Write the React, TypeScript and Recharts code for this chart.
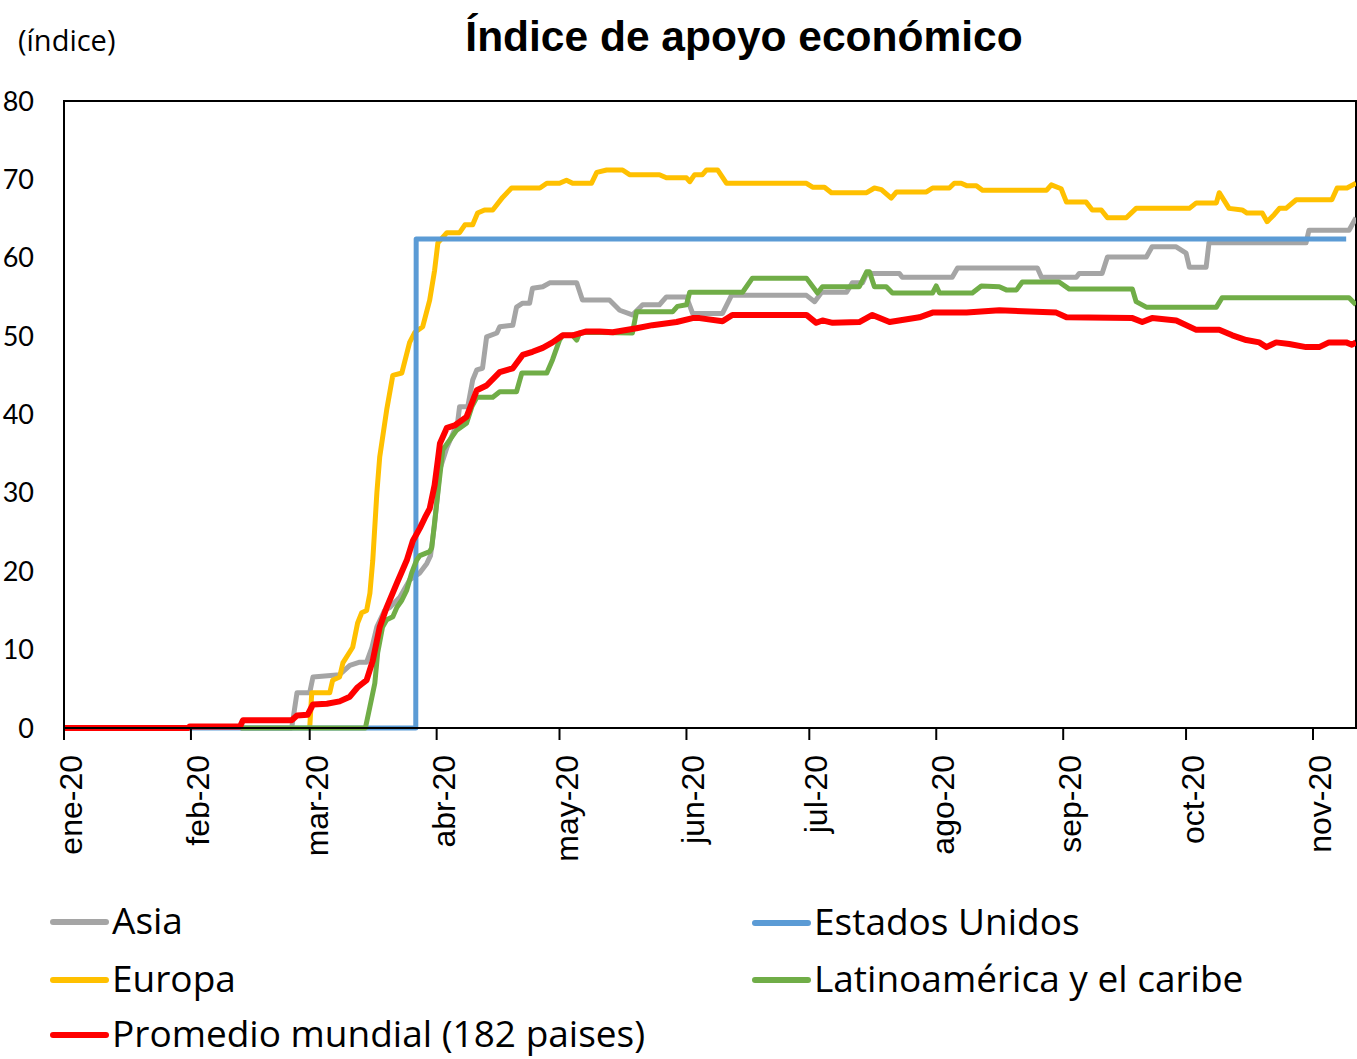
import React from "react";
import { LineChart, Line, XAxis, YAxis, ReferenceArea } from "recharts";

// days counted from 1 Jan 2020
type Pt = [number, number];

const monthTicks = [0, 31, 60, 91, 121, 152, 182, 213, 244, 274, 305];
const monthLabels = ["ene-20", "feb-20", "mar-20", "abr-20", "may-20", "jun-20", "jul-20", "ago-20", "sep-20", "oct-20", "nov-20"];
const yTicks = [0, 10, 20, 30, 40, 50, 60, 70, 80];

const asia: Pt[] = [
  [43, 0], [55.6, 0], [56.9, 4.5], [60, 4.5], [60.8, 6.5], [67.3, 6.8], [69.8, 8], [72.2, 8.4], [73.9, 8.4],
  [75.2, 10.3], [76.4, 12.9], [78.3, 15], [79.6, 15.4], [82, 16.7], [84.4, 18.9], [86.9, 19.8], [88.6, 21],
  [89.5, 22], [90.5, 26], [91.8, 33], [93.5, 35.8], [96.1, 38.9], [96.6, 41], [98.6, 41], [99.8, 44.4],
  [100.8, 45.7], [102.2, 45.9], [103.2, 49.9], [105.7, 50.4], [106.4, 51.2], [109.6, 51.4], [110.5, 53.7],
  [112, 54.2], [113.7, 54.2], [114.4, 56.1], [116.9, 56.3], [118.6, 56.8], [125.2, 56.8], [126.6, 54.6],
  [133.2, 54.6], [135.7, 53.3], [138.8, 52.7], [141.3, 54], [145.4, 54], [147.1, 55], [152, 55], [153.5, 52.9],
  [160.8, 52.9], [163, 55.2], [181.3, 55.2], [183.3, 54.4], [185, 55.6], [191.1, 55.6], [192.5, 56.8],
  [195, 56.8], [196, 58], [204, 58], [204.7, 57.5], [216.9, 57.5], [218.2, 58.7], [237.7, 58.7], [238.7, 57.5],
  [247.2, 57.5], [247.9, 58], [253.5, 58], [254.8, 60.1], [264.3, 60.1], [265.7, 61.4], [271.6, 61.4],
  [274, 60.6], [274.8, 58.8], [278.9, 58.8], [279.6, 61.9], [303.3, 61.9], [304, 63.5], [313.8, 63.5], [315.5, 65.1],
];

const europa: Pt[] = [
  [60, 0], [60.5, 4.5], [64.9, 4.5], [65.6, 6.1], [67.3, 6.5], [68.1, 8.3], [70.5, 10.3], [71.7, 13.4],
  [72.7, 14.7], [73.9, 15], [74.7, 17.2], [75.4, 21.4], [76.4, 30], [77.1, 34.6], [78.8, 40.6], [80.3, 45],
  [82.5, 45.3], [84.4, 49.2], [85.7, 50.5], [87.6, 51.2], [89.3, 54.6], [90.5, 58.4], [91.3, 61.9], [93.5, 63.2],
  [96.6, 63.2], [97.9, 64.2], [99.8, 64.2], [101, 65.7], [102.7, 66.1], [104.7, 66.1], [107.1, 67.7],
  [109.3, 68.9], [116.2, 68.9], [117.9, 69.5], [121, 69.5], [122.7, 69.9], [124.2, 69.5], [128.8, 69.5],
  [130.1, 70.9], [132.5, 71.2], [136.4, 71.2], [138.1, 70.6], [145.4, 70.6], [147.1, 70.2], [152, 70.2],
  [152.8, 69.7], [154, 70.6], [155.9, 70.6], [156.9, 71.2], [159.6, 71.2], [161.8, 69.5], [181.3, 69.5],
  [182.8, 69], [185.7, 69], [187.4, 68.3], [196, 68.3], [197.9, 68.9], [199.6, 68.7], [202, 67.6],
  [203.3, 68.4], [210.6, 68.4], [212.1, 68.9], [216.2, 68.9], [217.4, 69.5], [219.1, 69.5], [220.4, 69.2],
  [222.8, 69.2], [224.3, 68.6], [239.9, 68.6], [241.1, 69.3], [243.5, 68.8], [244.8, 67.1], [249.6, 67.1],
  [251.1, 66.1], [253.3, 66.1], [254.8, 65.1], [259.4, 65.1], [261.8, 66.3], [274.8, 66.3], [276.5, 67],
  [281.4, 67], [282.1, 68.3], [284.5, 66.3], [287.7, 66.1], [288.9, 65.7], [292.6, 65.7], [293.8, 64.6],
  [295.5, 65.5], [296.8, 66.3], [298.4, 66.3], [300.9, 67.4], [309.6, 67.4], [310.9, 68.9], [313.3, 68.9],
  [315.5, 69.5],
];

const eeuu: Pt[] = [[0, 0], [85.9, 0], [86, 62.4], [313.1, 62.4]];

const latam: Pt[] = [
  [43.2, 0], [73.6, 0], [74.7, 2.7], [75.9, 5.7], [76.6, 9.6], [77.8, 12.9], [78.8, 13.8], [80.3, 14.2],
  [81.3, 15.4], [82.5, 16.3], [83.7, 17.6], [84.9, 19.8], [86.1, 21.4], [86.9, 22], [89.3, 22.5], [89.8, 23],
  [91.3, 30], [92.5, 35.5], [95.9, 38], [98.3, 38.9], [99.6, 41], [100.8, 42.2], [104.7, 42.2], [106.4, 42.9],
  [110.5, 42.9], [111.8, 45.3], [117.9, 45.3], [119.3, 47], [121, 49.5], [121.8, 50.1], [124.2, 50.1],
  [125.2, 49.5], [125.9, 50.4], [127.6, 50.5], [138.8, 50.4], [139.8, 53.1], [148.6, 53.1], [149.8, 53.8],
  [152, 54], [152.8, 55.6], [165.7, 55.6], [168.1, 57.4], [181.3, 57.4], [184, 55.5], [185.2, 56.3],
  [194.2, 56.3], [196, 58.2], [196.7, 58.2], [197.9, 56.3], [200.8, 56.3], [202.3, 55.5], [212.1, 55.5],
  [213, 56.4], [213.8, 55.5], [221.8, 55.5], [224, 56.4], [228.4, 56.3], [230.1, 55.9], [232.6, 55.9],
  [234, 56.9], [243, 56.9], [245.5, 56], [260.9, 56], [261.8, 54.4], [264.3, 53.7], [281.4, 53.7],
  [282.8, 54.9], [313.8, 54.9], [315.5, 54],
];

const mundial: Pt[] = [
  [0, 0], [30.4, 0], [30.7, 0.2], [43, 0.2], [43.7, 1], [55.6, 1], [56.9, 1.6], [59.5, 1.7], [60.8, 3], [64.2, 3.1],
  [67.3, 3.4], [69.8, 4], [71.7, 5.2], [73.9, 6.1], [75.4, 8.6], [77.1, 12.9], [78.8, 15.4], [81.3, 18.5],
  [83.7, 21.4], [85.2, 23.9], [86.9, 25.5], [88.1, 26.8], [89.3, 28], [90.5, 31], [91.3, 34.2], [91.8, 36.3],
  [93.5, 38.3], [95.4, 38.6], [98.3, 39.7], [100.8, 43.1], [103.2, 43.7], [106.4, 45.4], [109.6, 45.9],
  [112, 47.6], [114.4, 48], [116.9, 48.5], [119.3, 49.2], [121.8, 50.1], [124.2, 50.1], [127.6, 50.6],
  [130.8, 50.6], [134, 50.5], [139.8, 51], [143.7, 51.4], [149.6, 51.8], [153.5, 52.3], [155.2, 52.3],
  [160.8, 51.9], [163.2, 52.7], [181.3, 52.7], [183.7, 51.7], [185.2, 52], [187.7, 51.7], [194.2, 51.8],
  [197.4, 52.7], [201.6, 51.8], [208.9, 52.4], [212.1, 53], [220.4, 53], [228.4, 53.3], [242.3, 53],
  [244.8, 52.4], [260.9, 52.3], [263.3, 51.8], [265.7, 52.3], [271.6, 52], [276.5, 50.8], [282.1, 50.8],
  [285.3, 50.1], [288.7, 49.5], [291.9, 49.2], [293.6, 48.6], [296, 49.2], [299.2, 49], [303.3, 48.6],
  [306.5, 48.6], [308.9, 49.2], [313.1, 49.2], [314.5, 48.9], [315.5, 49.2],
];

const series = [
  { name: "Asia", pts: asia, color: "#A5A5A5", w: 5 },
  { name: "Europa", pts: europa, color: "#FFC000", w: 5 },
  { name: "Estados Unidos", pts: eeuu, color: "#5B9BD5", w: 5 },
  { name: "Latinoamérica y el caribe", pts: latam, color: "#70AD47", w: 5 },
  { name: "Promedio mundial (182 paises)", pts: mundial, color: "#FF0000", w: 6 },
];

// legend layout: [series index, line x, row y]
const legendSlots: [number, number, number][] = [
  [0, 53, 922],
  [1, 53, 980],
  [4, 53, 1035],
  [2, 755, 923],
  [3, 755, 980],
];

const MonthTick = (props: any) => {
  const { x, y, payload } = props;
  const tx = x + 18;
  return (
    <text
      x={tx}
      y={y}
      transform={`rotate(-90 ${tx} ${y})`}
      textAnchor="end"
      fontFamily="'Liberation Sans', Arial, sans-serif"
      fontSize={32}
      fill="#000"
    >
      {monthLabels[monthTicks.indexOf(payload.value)]}
    </text>
  );
};

export default function App() {
  return (
    <div style={{ position: "absolute", left: 0, top: 0, width: 1357, height: 1059, background: "#fff" }}>
      <LineChart width={1357} height={1059} margin={{ top: 101, right: 1, bottom: 201, left: 0 }}>
        <XAxis
          dataKey="d"
          type="number"
          domain={[0, 315.5]}
          ticks={monthTicks}
          allowDataOverflow
          tick={<MonthTick />}
          tickSize={12}
          tickMargin={15}
          height={130}
          axisLine={{ stroke: "#000", strokeWidth: 2 }}
          tickLine={{ stroke: "#000", strokeWidth: 2 }}
        />
        <YAxis
          type="number"
          domain={[0, 80]}
          ticks={yTicks}
          width={64}
          tickLine={false}
          tickSize={0}
          tickMargin={30}
          axisLine={{ stroke: "#000", strokeWidth: 2 }}
          tick={{ fill: "#000", fontSize: 27, fontFamily: "Lato, sans-serif" }}
        />
        <ReferenceArea x1={0} x2={315.5} y1={0} y2={80} fill="none" stroke="#000" strokeWidth={2} ifOverflow="visible" />
        {series.map((s) => (
          <Line
            key={s.name}
            name={s.name}
            data={s.pts.map(([d, v]) => ({ d, v }))}
            dataKey="v"
            type="linear"
            stroke={s.color}
            strokeWidth={s.w}
            strokeLinejoin="round"
            dot={false}
            activeDot={false}
            isAnimationActive={false}
          />
        ))}
      </LineChart>
      <svg width={1357} height={1059} style={{ position: "absolute", left: 0, top: 0, pointerEvents: "none" }}>
        <text x={744} y={51} textAnchor="middle" fontFamily="'Liberation Sans', Arial, sans-serif" fontWeight="bold" fontSize={42.5}>
          Índice de apoyo económico
        </text>
        <text x={18} y={51} fontFamily="'Open Sans', sans-serif" fontSize={29}>
          (índice)
        </text>
        {legendSlots.map(([i, lx, ly]) => (
          <g key={i}>
            <line x1={lx} x2={lx + 53} y1={ly} y2={ly} stroke={series[i].color} strokeWidth={6} strokeLinecap="round" />
            <text x={lx + 59} y={ly + 12} fontFamily="'Open Sans', sans-serif" fontSize={37} fill="#000">
              {series[i].name}
            </text>
          </g>
        ))}
      </svg>
    </div>
  );
}
